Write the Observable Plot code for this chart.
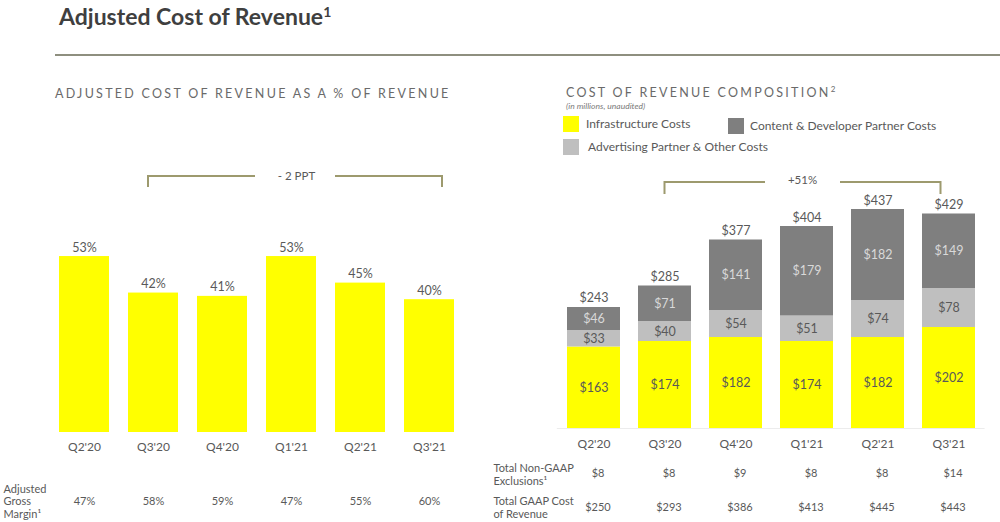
<!DOCTYPE html>
<html>
<head>
<meta charset="utf-8">
<script src="https://cdn.jsdelivr.net/npm/d3@7"></script>
<script src="https://cdn.jsdelivr.net/npm/@observablehq/plot@0.6"></script>
<style>
  html, body { margin: 0; padding: 0; background: #fff; }
  #root { position: relative; width: 1000px; height: 522px; overflow: hidden; font-family: Lato, "Noto Sans", sans-serif; color: #595959; }
  .abs { position: absolute; white-space: nowrap; line-height: 1; }
  .title { left: 59px; top: 5px; font-size: 23px; font-weight: 700; color: #3f3f3f; }
  .rule { left: 55px; top: 54px; width: 945px; height: 2px; background: #8e8f7f; }
  .sub { font-size: 12.5px; letter-spacing: 2.28px; color: #6a6a6a; }
  .note { font-size: 8.5px; font-style: italic; color: #7a7a7a; }
  .sw { position: absolute; width: 16px; height: 16px; }
  .lg { font-size: 12px; color: #595959; }
  .plot { position: absolute; top: 150px; }
</style>
</head>
<body>
<div id="root">
  <div class="abs title">Adjusted Cost of Revenue<span style="font-size:14px;vertical-align:8px">1</span></div>
  <div class="abs rule"></div>
  <div class="abs sub" style="left:55px;top:88px">ADJUSTED COST OF REVENUE AS A % OF REVENUE</div>
  <div class="abs sub" style="left:566px;top:87px">COST OF REVENUE COMPOSITION<span style="font-size:8px;position:relative;top:-5px">2</span></div>
  <div class="abs note" style="left:566px;top:102px">(in millions, unaudited)</div>
  <div id="legend"></div>
  <div id="left" class="plot" style="left:0px"></div>
  <div id="right" class="plot" style="left:480px"></div>
</div>
<script>
// ---------- data ----------
const quarters = ["Q2'20", "Q3'20", "Q4'20", "Q1'21", "Q2'21", "Q3'21"];
const adjCostPct = [53, 42, 41, 53, 45, 40];
const adjGrossMargin = [47, 58, 59, 47, 55, 60];

const seriesNames = ["Infrastructure Costs", "Advertising Partner & Other Costs", "Content & Developer Partner Costs"];
const infrastructure = [163, 174, 182, 174, 182, 202];
const advertising = [33, 40, 54, 51, 74, 78];
const contentDev = [46, 71, 141, 179, 182, 149];
const totals = [243, 285, 377, 404, 437, 429];
const nonGaapExclusions = [8, 8, 9, 8, 8, 14];
const gaapCost = [250, 293, 386, 413, 445, 443];

const leftBracket = {from: "Q3'20", to: "Q3'21", label: "- 2 PPT"};
const rightBracket = {from: "Q3'20", to: "Q3'21", label: "+51%"};

// ---------- style / layout ----------
const colors = ["#ffff00", "#bfbfbf", "#7f7f7f"];
const textDark = "#595959";
const textLight = "#d9d9d9";
const bracketColor = "#9d9a6e";
const font = "Lato, 'Noto Sans', sans-serif";

// legend (HTML)
const legendItems = [
  {name: seriesNames[0], color: colors[0], x: 563, y: 116, tx: 586},
  {name: seriesNames[2], color: colors[2], x: 728, y: 118, tx: 750},
  {name: seriesNames[1], color: colors[1], x: 563, y: 139, tx: 588}
];
const legend = document.getElementById("legend");
for (const it of legendItems) {
  const sw = document.createElement("div");
  sw.className = "sw";
  sw.style.left = it.x + "px"; sw.style.top = it.y + "px"; sw.style.background = it.color;
  legend.appendChild(sw);
  const t = document.createElement("div");
  t.className = "abs lg";
  t.style.left = it.tx + "px"; t.style.top = (it.y + 2) + "px";
  t.textContent = it.name;
  legend.appendChild(t);
}

// bracket annotation drawn through the plot's own x / y scales
function bracketMark(b, o) {
  return (index, scales) => {
    const x = scales.x, y = scales.y;
    const bw = typeof x.bandwidth === "function" ? x.bandwidth() : (x.bandwidth || 0);
    const x1 = x(b.from) + bw / 2 + o.off1;
    const x2 = x(b.to) + bw / 2 + o.off2;
    const yt = y(o.top), yb = y(o.bottom);
    const xm = (x1 + x2) / 2;
    const g = d3.create("svg:g");
    g.append("path")
      .attr("d", `M${x1},${yb}V${yt}H${xm - o.gap}M${xm + o.gap},${yt}H${x2}V${yb}`)
      .attr("fill", "none").attr("stroke", bracketColor).attr("stroke-width", 2);
    g.append("text")
      .attr("x", xm + o.tdx).attr("y", yt + o.tdy).attr("dy", "0.32em")
      .attr("text-anchor", "middle").attr("fill", textDark).attr("font-size", 11.5)
      .text(b.label);
    return g.node();
  };
}

// ---------- left chart ----------
const leftData = quarters.map((q, i) => ({q, v: adjCostPct[i], m: adjGrossMargin[i]}));
const leftPlot = Plot.plot({
  width: 480, height: 372,
  marginLeft: 47, marginRight: 14, marginTop: 16.4, marginBottom: 90,
  style: {fontFamily: font, fontSize: "12px", color: textDark, background: "transparent", overflow: "visible"},
  x: {domain: quarters, paddingInner: 0.27, paddingOuter: 0.135, axis: null},
  y: {domain: [0, 80], axis: null},
  marks: [
    bracketMark(leftBracket, {top: 77.1, bottom: 73.8, off1: -5, off2: 13, gap: 40, tdx: 1.5, tdy: 0}),
    Plot.barY(leftData, {x: "q", y: "v", fill: colors[0]}),
    Plot.text(leftData, {x: "q", y: "v", text: d => d.v + "%", dy: -9, fill: textDark, fontSize: 12.5}),
    Plot.text(quarters, {x: d => d, frameAnchor: "bottom", lineAnchor: "middle", dy: 15, text: d => d, fill: textDark, fontSize: 12}),
    Plot.text(leftData, {x: "q", text: d => d.m + "%", frameAnchor: "bottom", lineAnchor: "middle", dy: 69, fill: textDark, fontSize: 11}),
    Plot.text(["Adjusted\nGross\nMargin¹"], {frameAnchor: "bottom-left", lineAnchor: "middle", dx: -44, dy: 69, textAnchor: "start",
      lineHeight: 1.13, fill: textDark, fontSize: 11, text: d => d})
  ]
});
document.getElementById("left").appendChild(leftPlot);

// ---------- right chart ----------
const seriesValues = [infrastructure, advertising, contentDev];
const stackData = [];
quarters.forEach((q, i) => seriesNames.forEach((c, k) => stackData.push({q, c, v: seriesValues[k][i]})));
const totalData = quarters.map((q, i) => ({q, t: totals[i], n: nonGaapExclusions[i], g: gaapCost[i]}));

const stackOpts = {x: "q", y: "v", z: "c", order: seriesNames};
const rightPlot = Plot.plot({
  width: 520, height: 372,
  marginLeft: 76.85, marginRight: 15.4, marginTop: 8, marginBottom: 94,
  style: {fontFamily: font, fontSize: "12px", color: textDark, background: "transparent", overflow: "visible"},
  x: {domain: quarters, paddingInner: 0.257, paddingOuter: 0.1285, axis: null},
  y: {domain: [0, 540], axis: null},
  color: {domain: seriesNames, range: colors},
  marks: [
    Plot.ruleY([0], {stroke: "#ececec"}),
    bracketMark(rightBracket, {top: 492, bottom: 468, off1: 0, off2: -8, gap: 37.5, tdx: 0, tdy: -2}),
    Plot.barY(stackData, Plot.stackY({...stackOpts, fill: "c"})),
    Plot.text(stackData, Plot.stackY({...stackOpts, text: d => d.c === seriesNames[2] ? "" : "$" + d.v, fill: textDark, fontSize: 12.5})),
    Plot.text(stackData, Plot.stackY({...stackOpts, text: d => d.c === seriesNames[2] ? "$" + d.v : "", fill: textLight, fontSize: 12.5})),
    Plot.text(totalData, {x: "q", y: "t", text: d => "$" + d.t, dy: -9, fill: textDark, fontSize: 12.5}),
    Plot.text(quarters, {x: d => d, frameAnchor: "bottom", lineAnchor: "middle", dy: 16, text: d => d, fill: textDark, fontSize: 12}),
    Plot.text(totalData, {x: "q", text: d => "$" + d.n, frameAnchor: "bottom", lineAnchor: "middle", dx: 4, dy: 45, fill: textDark, fontSize: 11}),
    Plot.text(totalData, {x: "q", text: d => "$" + d.g, frameAnchor: "bottom", lineAnchor: "middle", dx: 4, dy: 79, fill: textDark, fontSize: 11}),
    Plot.text(["Total Non-GAAP\nExclusions¹"], {frameAnchor: "bottom-left", lineAnchor: "middle", dx: -63.85, dy: 45.5, textAnchor: "start",
      lineHeight: 1.18, fill: textDark, fontSize: 11, text: d => d}),
    Plot.text(["Total GAAP Cost\nof Revenue"], {frameAnchor: "bottom-left", lineAnchor: "middle", dx: -63.85, dy: 78.5, textAnchor: "start",
      lineHeight: 1.18, fill: textDark, fontSize: 11, text: d => d})
  ]
});
document.getElementById("right").appendChild(rightPlot);
</script>
</body>
</html>
